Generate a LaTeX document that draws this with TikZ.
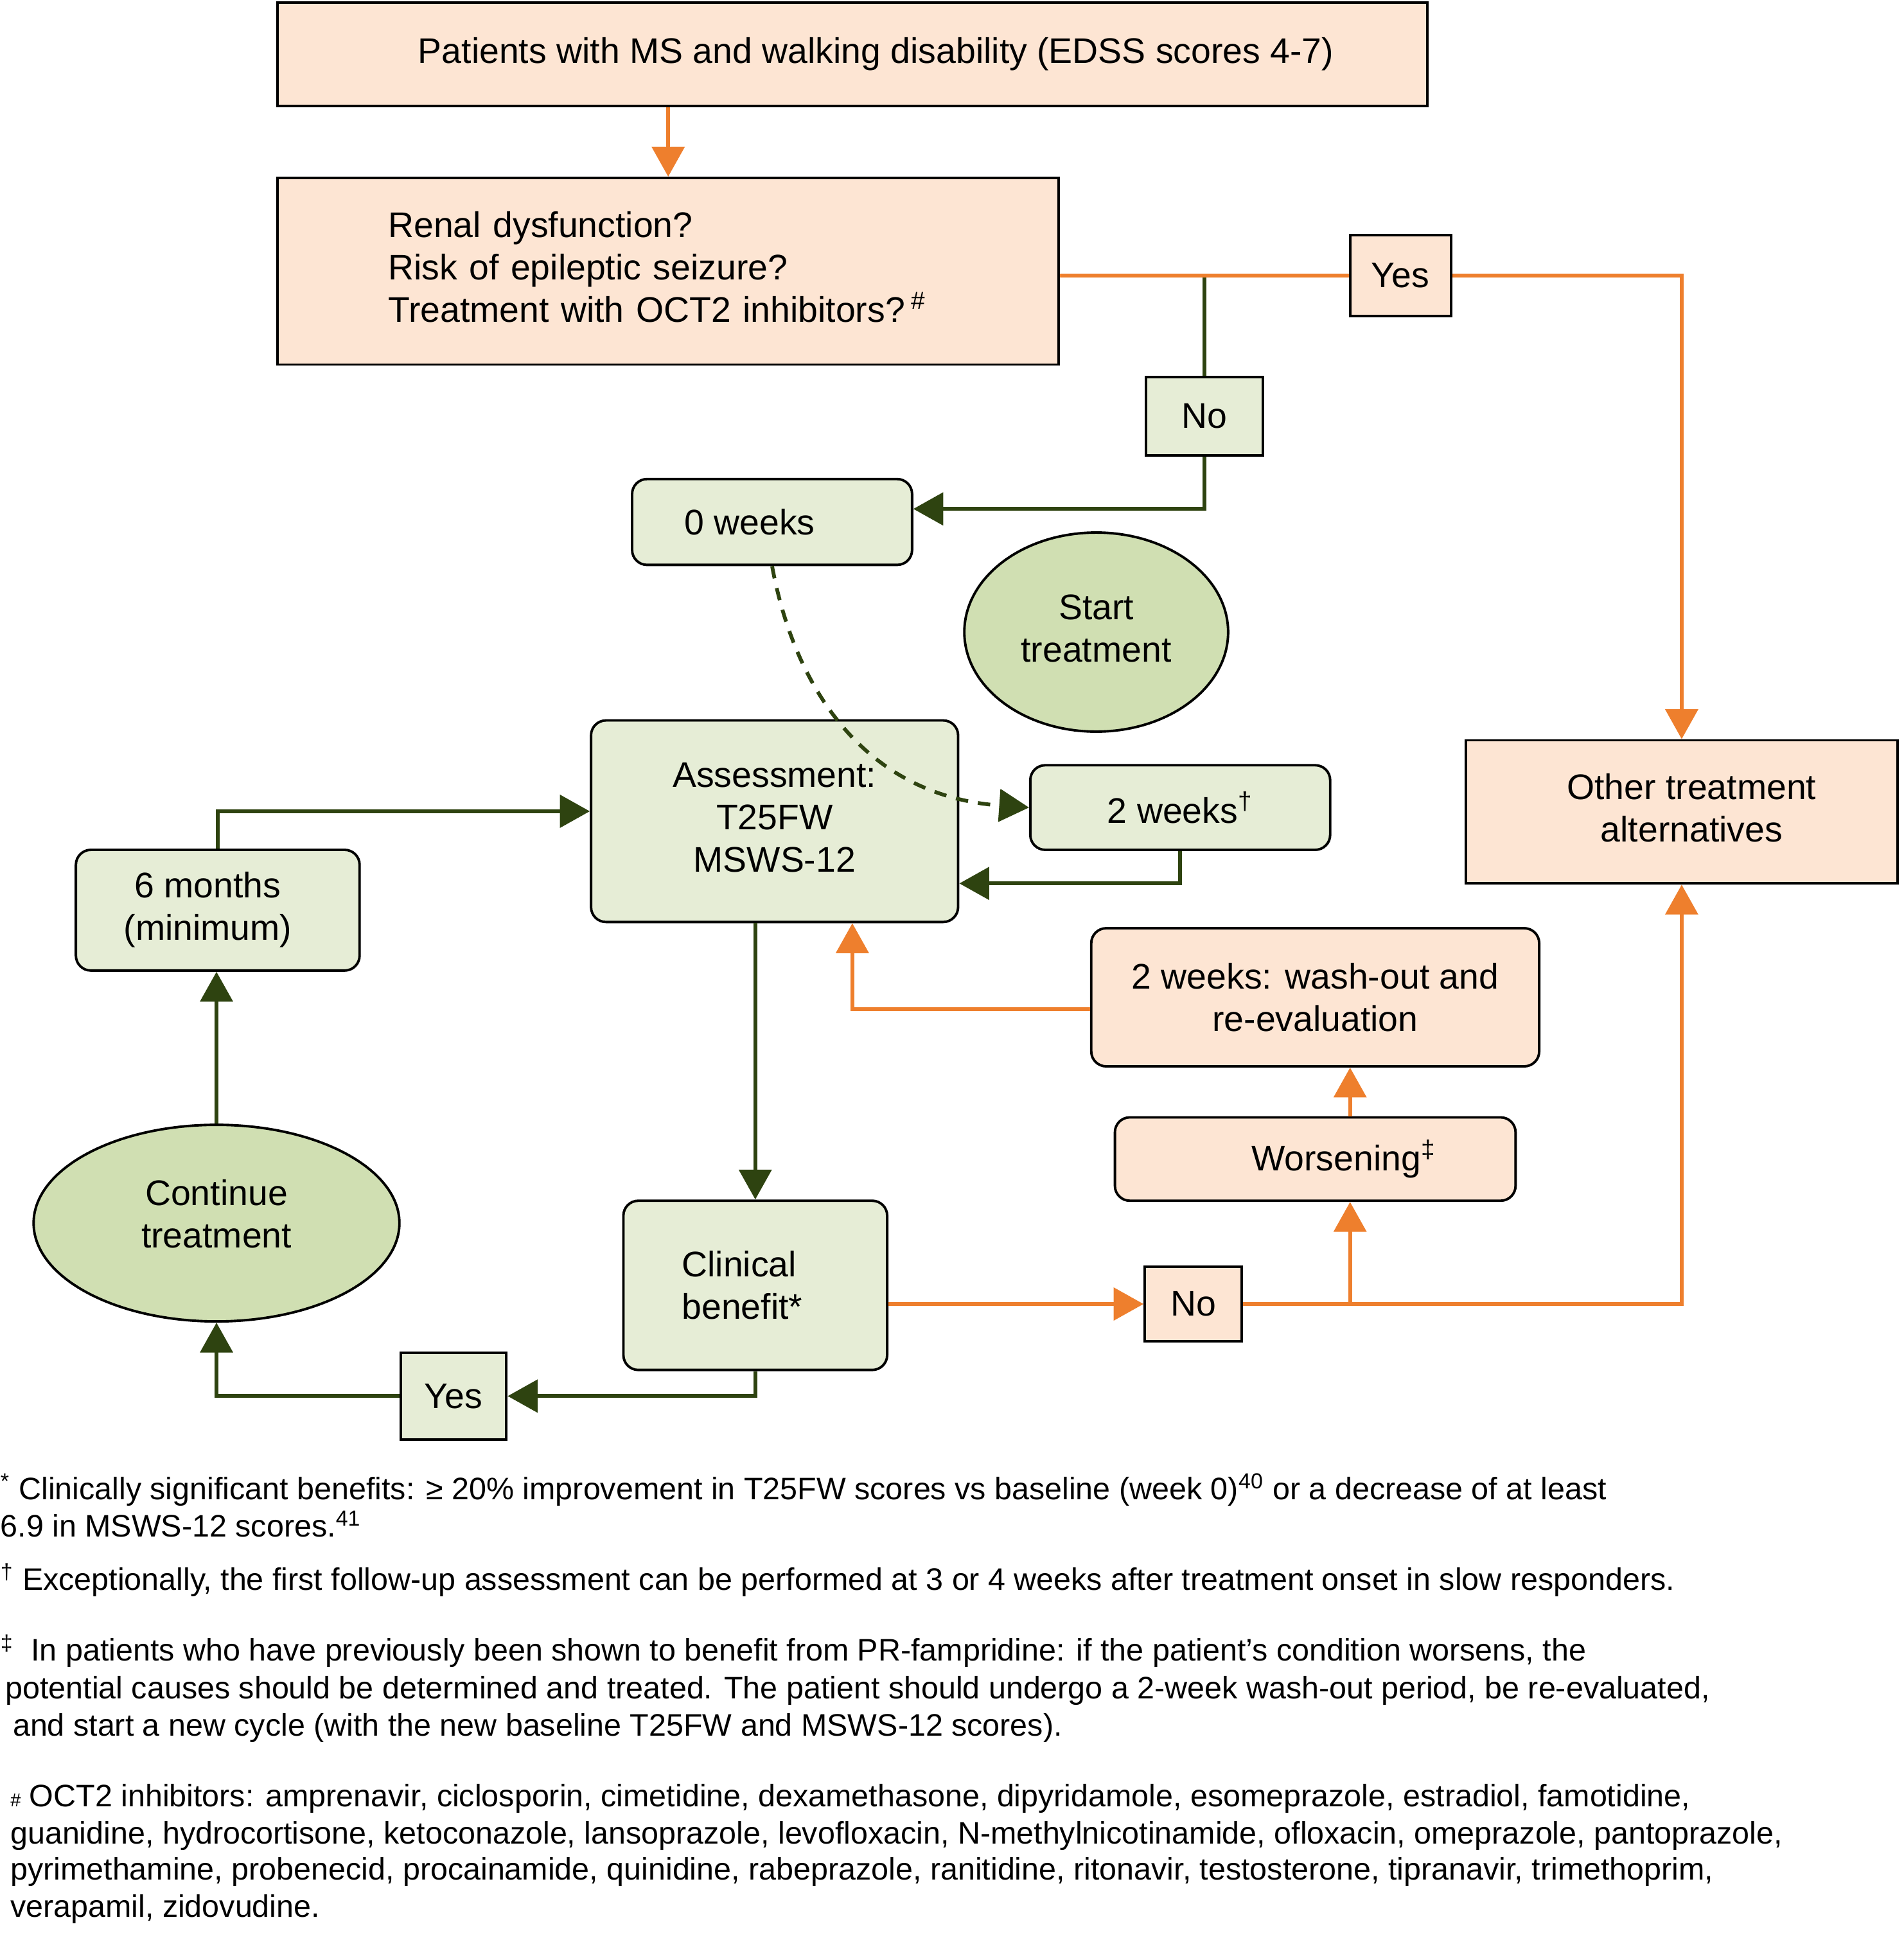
\documentclass[tikz,border=0pt]{standalone}
\usepackage{fontspec}
\setmainfont{Liberation Sans}
\usetikzlibrary{shapes.geometric,arrows.meta,calc}
\definecolor{peach}{HTML}{FDE5D3}
\definecolor{lgreen}{HTML}{E6EDD6}
\definecolor{egreen}{HTML}{D0DFB2}
\definecolor{dgreen}{HTML}{2E4310}
\definecolor{orange1}{HTML}{EE7F2D}
\newcommand{\mainsz}{\fontsize{14.3}{17}\selectfont}
\newcommand{\footsz}{\fontsize{12.5}{15}\selectfont}
\tikzset{
  base/.style={draw=black, line width=1pt, inner sep=0pt, font=\mainsz, align=center},
  pbox/.style={base, fill=peach},
  gbox/.style={base, fill=lgreen},
  rnd/.style={rounded corners=6pt},
  oval/.style={base, ellipse, fill=egreen},
  oline/.style={draw=orange1, line width=1.5pt},
  oarr/.style={oline, -{Triangle[length=12pt,width=13pt]}},
  gline/.style={draw=dgreen, line width=1.5pt},
  garr/.style={gline, -{Triangle[length=12pt,width=13pt]}},
  fnote/.style={anchor=base west, inner sep=0pt, font=\footsz},
}
\begin{document}
\begin{tikzpicture}[x=0.5pt, y=-0.5pt]
\useasboundingbox (0,0) rectangle (1530,1572);

% boxes
\node[pbox, minimum width=462pt, minimum height=41.5pt] (n1) at (685,43.5)
  {\hspace*{19pt}Patients with MS and walking disability (EDSS scores 4-7)};
\node[pbox, minimum width=314pt, minimum height=75pt, text width=225pt, align=left] (n2) at (537,218)
  {\begin{tabular}{@{}l@{}}Renal dysfunction?\\Risk of epileptic seizure?\\Treatment with OCT2 inhibitors?\,\textsuperscript{\#}\end{tabular}};
\node[pbox, minimum width=40.5pt, minimum height=32.5pt] (yes1) at (1125.5,221.5) {Yes};
\node[gbox, minimum width=47pt, minimum height=31.5pt] (no1) at (968,334.5) {No};
\node[gbox, rnd, minimum width=112.5pt, minimum height=34.5pt] (w0) at (620.5,419.5)
  {0 weeks\hspace*{18pt}};
\node[oval, minimum width=106pt, minimum height=80pt] (start) at (881,508)
  {\raisebox{1.5pt}{\begin{tabular}{@{}c@{}}Start\\treatment\end{tabular}}};
\node[gbox, rnd, minimum width=147.5pt, minimum height=81pt] (assess) at (622.5,660)
  {\raisebox{1.5pt}{\begin{tabular}{@{}c@{}}Assessment:\\T25FW\\MSWS-12\end{tabular}}};
\node[gbox, rnd, minimum width=120.5pt, minimum height=34pt] (w2) at (948.5,649)
  {2 weeks\textsuperscript{†}};
\node[pbox, minimum width=173.5pt, minimum height=57.5pt] (other) at (1351.5,652.5)
  {\hspace*{8pt}\begin{tabular}{@{}c@{}}Other treatment\\alternatives\end{tabular}};
\node[gbox, rnd, minimum width=114pt, minimum height=48.5pt] (m6) at (175,731.5)
  {\begin{tabular}{@{}c@{}}6 months\\(minimum)\end{tabular}\hspace*{8pt}};
\node[pbox, rnd, minimum width=180pt, minimum height=55.5pt] (wash) at (1057,801.5)
  {2 weeks: wash-out and\\re-evaluation};
\node[pbox, rnd, minimum width=161pt, minimum height=33.5pt] (worse) at (1057,931.5)
  {\hspace*{23pt}Worsening\textsuperscript{‡}};
\node[oval, minimum width=147pt, minimum height=79pt] (cont) at (174,983)
  {\raisebox{-1.5pt}[0pt][0pt]{\begin{tabular}{@{}c@{}}Continue\\treatment\end{tabular}}};
\node[gbox, rnd, minimum width=106pt, minimum height=68pt, text width=59pt, align=left] (clin) at (607,1033)
  {Clinical\\benefit*};
\node[pbox, minimum width=39pt, minimum height=30pt] (no2) at (959,1048) {No};
\node[gbox, minimum width=42.5pt, minimum height=35pt] (yes2) at (364.5,1122) {Yes};

% connectors
\draw[gline] (no1.north |- yes1.west) -- (no1.north);
\draw[oarr] (n1.south -| n2.north) -- (n2.north);
\draw[oline] (n2.east |- yes1.west) -- (yes1.west);
\draw[oarr] (yes1.east) -| (other.north);
\draw[garr] (no1.south) |- ([yshift=5.25pt]w0.east);
\draw[gline, dash pattern=on 5pt off 4pt, -{Triangle[length=12pt,width=13pt]}]
  (w0.south) .. controls (640,560) and (700,640) .. (w2.west);
\draw[garr] (w2.south) |- ([yshift=-25pt]assess.east);
\draw[garr] (m6.north) |- ([yshift=4pt]assess.west);
\draw[garr] (cont.north) -- (cont.north |- m6.south);
\draw[garr] (clin.north |- assess.south) -- (clin.north);
\draw[oarr] (clin.east |- no2.west) -- (no2.west);
\draw[oarr] (no2.east) -| (other.south);
\draw[oarr] ([xshift=14pt]worse.south |- no2.east) -- ([xshift=14pt]worse.south);
\draw[oarr] ([xshift=14pt]worse.north) -- ([xshift=14pt]wash.south);
\draw[oarr] ([yshift=-4.75pt]wash.west) -| ([xshift=31.25pt]assess.south);
\draw[garr] (clin.south) |- (yes2.east);
\draw[garr] (yes2.west) -| (cont.south);

% footnotes
\node[fnote] (f1) at (0,1205) {\textsuperscript{*} Clinically significant benefits: ≥ 20\% improvement in T25FW scores vs baseline (week 0)\textsuperscript{40} or a decrease of at least};
\node[fnote] (f2) at (0,1235) {6.9 in MSWS-12 scores.\textsuperscript{41}};
\node[fnote] (f3) at (0,1278) {\textsuperscript{†} Exceptionally, the first follow-up assessment can be performed at 3 or 4 weeks after treatment onset in slow responders.};
\node[fnote] (f4) at (0,1335) {\textsuperscript{‡}\ \ In patients who have previously been shown to benefit from PR-fampridine: if the patient’s condition worsens, the};
\node[fnote] (f5) at (4,1365) {potential causes should be determined and treated. The patient should undergo a 2-week wash-out period, be re-evaluated,};
\node[fnote] (f6) at (10,1395) {and start a new cycle (with the new baseline T25FW and MSWS-12 scores).};
\node[fnote] (f7) at (8,1452) {{\fontsize{7.5}{8}\selectfont\#} OCT2 inhibitors: amprenavir, ciclosporin, cimetidine, dexamethasone, dipyridamole, esomeprazole, estradiol, famotidine,};
\node[fnote] (f8) at (8,1482) {guanidine, hydrocortisone, ketoconazole, lansoprazole, levofloxacin, N-methylnicotinamide, ofloxacin, omeprazole, pantoprazole,};
\node[fnote] (f9) at (8,1511) {pyrimethamine, probenecid, procainamide, quinidine, rabeprazole, ranitidine, ritonavir, testosterone, tipranavir, trimethoprim,};
\node[fnote] (f10) at (8,1541) {verapamil, zidovudine.};
\end{tikzpicture}
\end{document}
